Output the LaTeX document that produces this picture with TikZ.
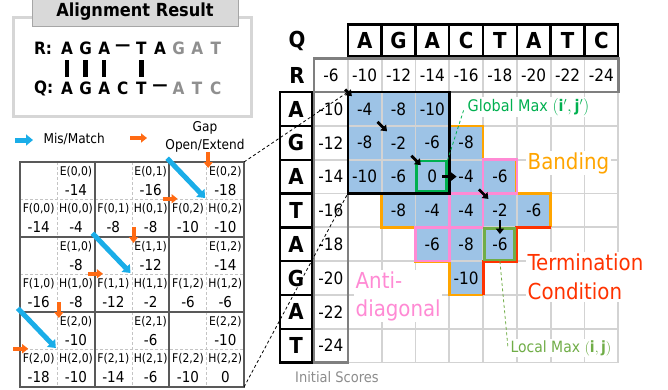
\documentclass[tikz,border=0pt]{standalone}
\usepackage{fontspec}
\IfFontExistsTF{DejaVu Sans Condensed}{\setmainfont{DejaVu Sans Condensed}}{\setmainfont{DejaVu Sans}}
\usetikzlibrary{positioning,arrows.meta,calc}

\definecolor{cellblue}{HTML}{9DC3E6}
\definecolor{gridgray}{HTML}{D3D3D3}
\definecolor{boxgray}{HTML}{7F7F7F}
\definecolor{bandorange}{HTML}{FFA500}
\definecolor{antipink}{HTML}{FF8AD4}
\definecolor{termred}{HTML}{FF3300}
\definecolor{globgreen}{HTML}{00B050}
\definecolor{locgreen}{HTML}{70AD47}
\definecolor{matchblue}{HTML}{1AADE8}
\definecolor{gaporange}{HTML}{FF6A13}
\definecolor{framegray}{HTML}{D6D6D6}
\definecolor{titlefill}{HTML}{D9D9D9}
\definecolor{titleedge}{HTML}{A6A6A6}
\definecolor{seqgray}{HTML}{8F8F8F}
\definecolor{tblgray}{HTML}{595959}
\definecolor{subgray}{HTML}{C4C4C4}
\definecolor{notegray}{HTML}{8C8C8C}

\begin{document}
\begin{tikzpicture}[x=1pt, y=-1pt, >=Triangle,
  num/.style={inner sep=0pt, font=\fontsize{17}{17}\selectfont},
  cell/.style={num, fill=cellblue, minimum size=33.8pt},
  hdr/.style={inner sep=0pt, font=\fontsize{22}{22}\selectfont\bfseries},
  hbox/.style={hdr, draw, line width=2.4pt},
  gridln/.style={gridgray, line width=1.8pt},
  frame/.style={boxgray, line width=2.6pt},
  trace/.style={line width=2.8pt, -{Triangle[length=5.5pt,width=8pt]}},
  lbl/.style={fill=white, inner sep=1.5pt, align=left, anchor=west},
  tag/.style={inner sep=0pt, font=\fontsize{12}{12}\selectfont},
  val/.style={inner sep=0pt, font=\fontsize{15}{15}\selectfont},
  match/.style={matchblue, line width=5pt, -{Triangle[length=7pt,width=11pt]}},
  gap/.style={gaporange, line width=4pt, -{Triangle[length=6pt,width=9pt]}},
  seq/.style={inner sep=0pt, font=\fontsize{17}{17}\selectfont\bfseries},
  link/.style={line width=.8pt, dash pattern=on 3pt off 2.5pt}]
  \useasboundingbox (0,0) rectangle (668,389);

  % alignment result
  \draw[framegray, line width=3pt] (13,17) rectangle (251,116);
  \node[draw=titleedge, fill=titlefill, minimum width=206pt, minimum height=28pt,
    font=\fontsize{18}{18}\selectfont\bfseries] (title) at (135,12) {Alignment Result};
  \node[seq, anchor=west] (rlab) at (34,48) {R:};
  \node[seq, anchor=west] (qlab) at (34,88) {Q:};
  \foreach \ch/\cl [count=\k from 0] in {A/black,G/black,A/black,---/black,T/black,A/black,G/seqgray,A/seqgray,T/seqgray}
    \node[seq, text=\cl] (r-\k) at (67+18.6*\k,48) {\ch};
  \foreach \ch/\cl [count=\k from 0] in {A/black,G/black,A/black,C/black,T/black,---/black,A/seqgray,T/seqgray,C/seqgray}
    \node[seq, text=\cl] (q-\k) at (67+18.6*\k,88) {\ch};
  \foreach \k in {0,1,2,4}
    \draw[line width=4.5pt] ($(r-\k)!.3!(q-\k)$) -- ($(r-\k)!.72!(q-\k)$);

  % legend
  \coordinate (mm-a) at (15,140);
  \coordinate (mm-b) at (33,140);
  \draw[match] (mm-a) -- (mm-b);
  \node[anchor=west, font=\fontsize{13.5}{13.5}\selectfont] (mmtext) at (40,139) {Mis/Match};
  \coordinate (go-a) at (130,138);
  \coordinate (go-b) at (147,138);
  \draw[gap] (go-a) -- (go-b);
  \node[align=center, font=\fontsize{13.5}{18}\selectfont] (gotext) at (205,137) {Gap\\Open/Extend};

  % cell detail table
  \begin{scope}[shift={(20,162)}, x=74.67pt, y=-75pt]
    \foreach \k in {.5,1.5,2.5} {
      \draw[subgray, line width=.8pt, dash pattern=on 3pt off 2pt] (\k,0) -- (\k,3);
      \draw[subgray, line width=.8pt, dash pattern=on 3pt off 2pt] (0,\k) -- (3,\k);
    }
    \foreach \k in {1,2} {
      \draw[tblgray, line width=1.8pt] (\k,0) -- (\k,3);
      \draw[tblgray, line width=1.8pt] (0,\k) -- (3,\k);
    }
    \draw[tblgray, line width=1.8pt] (0,0) rectangle (3,3);
    \coordinate (tbl-ne) at (3,0);
    \coordinate (tbl-se) at (3,3);
    \foreach \i/\j/\e/\f/\h in {0/0/-14/-14/-4, 0/1/-16/-8/-8, 0/2/-18/-10/-10,
        1/0/-8/-16/-8, 1/1/-12/-12/-2, 1/2/-14/-6/-6,
        2/0/-10/-18/-10, 2/1/-6/-14/-6, 2/2/-10/-10/0} {
      \coordinate (b-\i-\j) at (\j,\i);
      \node[tag] (e-\i-\j) at (\j+.75,\i+.125) {E(\i,\j)};
      \node[val] (ev-\i-\j) at (\j+.75,\i+.37) {\e};
      \node[tag] (f-\i-\j) at (\j+.25,\i+.62) {F(\i,\j)};
      \node[val] (fv-\i-\j) at (\j+.25,\i+.87) {\f};
      \node[tag] (h-\i-\j) at (\j+.75,\i+.62) {H(\i,\j)};
      \node[val] (hv-\i-\j) at (\j+.75,\i+.87) {\h};
    }
    \foreach \i/\j in {0/2,1/1,2/0} {
      \draw[match] ($(b-\i-\j)+(-.03,-.05)$) -- ($(b-\i-\j)+(.48,.48)$);
      \draw[gap] ($(b-\i-\j)+(.52,-.13)$) -- ($(b-\i-\j)+(.52,.08)$);
      \draw[gap] ($(b-\i-\j)+(-.09,.49)$) -- ($(b-\i-\j)+(.11,.49)$);
    }
  \end{scope}

  % score matrix
  \begin{scope}[shift={(314,58.3)}, x=33.8pt, y=-33.8pt]
    \foreach \r/\c/\v in {1/1/-4, 1/2/-8, 1/3/-10,
        2/1/-8, 2/2/-2, 2/3/-6, 2/4/-8,
        3/1/-10, 3/2/-6, 3/3/0, 3/4/-4, 3/5/-6,
        4/2/-8, 4/3/-4, 4/4/-4, 4/5/-2, 4/6/-6,
        5/3/-6, 5/4/-8, 5/5/-6,
        6/4/-10}
      \node[cell] (s-\r-\c) at (\c+.5,\r+.5) {\v};
    \foreach \k in {1,...,9} {
      \draw[gridln] (\k,0) -- (\k,9);
      \draw[gridln] (0,\k) -- (9,\k);
    }
    \foreach \v [count=\c from 0] in {-6,-10,-12,-14,-16,-18,-20,-22,-24}
      \node[num] (s-0-\c) at (\c+.5,.5) {\v};
    \foreach \v [count=\r] in {-10,-12,-14,-16,-18,-20,-22,-24}
      \node[num] (s-\r-0) at (.5,\r+.5) {\v};

    % headers
    \node[hdr] (q) at (-.5,-.5) {Q};
    \node[hdr] (r) at (-.5,.5) {R};
    \foreach \l [count=\c] in {A,G,A,C,T,A,T,C}
      \node[hbox, minimum width=33.8pt, minimum height=32pt] (col-\c) at (\c+.5,-.53) {\l};
    \foreach \l [count=\r] in {A,G,A,T,A,G,A,T}
      \node[hbox, minimum width=32pt, minimum height=33.8pt] (row-\r) at (-.53,\r+.5) {\l};

    % initial scores
    \draw[frame] (0,0) rectangle (9,1);
    \draw[frame] (0,1) -- (0,9) -- (1,9) -- (1,1);

    % banding, termination, anti-diagonal
    \draw[bandorange, line width=2.8pt] (4,2) -- (5,2) -- (5,3) -- (6,3) -- (6,4) -- (7,4) -- (7,5);
    \draw[bandorange, line width=2.8pt] (5,7) -- (4,7) -- (4,6) -- (3,6) -- (3,5) -- (2,5) -- (2,4);
    \draw[termred, line width=3pt] (7,5) -- (6,5) -- (6,6) -- (5,6) -- (5,7);
    \foreach \c/\r in {5/3,4/4,3/5}
      \draw[antipink, line width=2.6pt] (\c,\r) rectangle ++(1,1);

    % tile and maxima
    \coordinate (box-nw) at (1,1);
    \coordinate (box-sw) at (1,4);
    \draw[line width=2.6pt] (box-nw) rectangle (4,4);
    \draw[globgreen, line width=2.6pt] (3.04,3.04) rectangle (3.92,3.92);
    \draw[locgreen, line width=2.6pt] (5.04,5.04) rectangle (5.94,5.97);
    \coordinate (gmax) at (3.95,3.02);
    \coordinate (lmax) at (5.5,6);

    % traceback
    \foreach \a/\b/\p/\q in {s-0-0/s-1-1/.42/.62, s-1-1/s-2-2/.38/.66, s-2-2/s-3-3/.38/.66,
        s-3-3/s-3-4/.3/.72, s-3-4/s-4-5/.38/.66, s-4-5/s-5-5/.28/.7}
      \draw[trace] ($(\a)!\p!(\b)$) -- ($(\a)!\q!(\b)$);
  \end{scope}

  \draw[link] (tbl-ne) -- (box-nw);
  \draw[link] (tbl-se) -- (box-sw);

  % notes
  \node[lbl, text=globgreen, font=\fontsize{16}{16}\selectfont] (glab) at (466,107) {Global Max $(\mathbf{i'},\mathbf{j'})$};
  \node[lbl, text=locgreen, font=\fontsize{15.5}{15.5}\selectfont] (llab) at (509,348) {Local Max $(\mathbf{i},\mathbf{j})$};
  \draw[globgreen, link] (gmax) -- ([shift={(-2,2)}]glab.west);
  \draw[locgreen, link] (lmax) -- ([xshift=-1pt]llab.west);
  \node[lbl, text=bandorange, font=\fontsize{22}{22}\selectfont] (band) at (526,163) {Banding};
  \node[lbl, text=termred, font=\fontsize{22}{29}\selectfont] (term) at (526,277) {Termination\\Condition};
  \node[lbl, text=antipink, font=\fontsize{22}{28}\selectfont] (anti) at (354,296) {Anti-\\diagonal};
  \node[text=notegray, font=\fontsize{14.5}{14.5}\selectfont] (init) at (337,377) {Initial Scores};
\end{tikzpicture}
\end{document}
